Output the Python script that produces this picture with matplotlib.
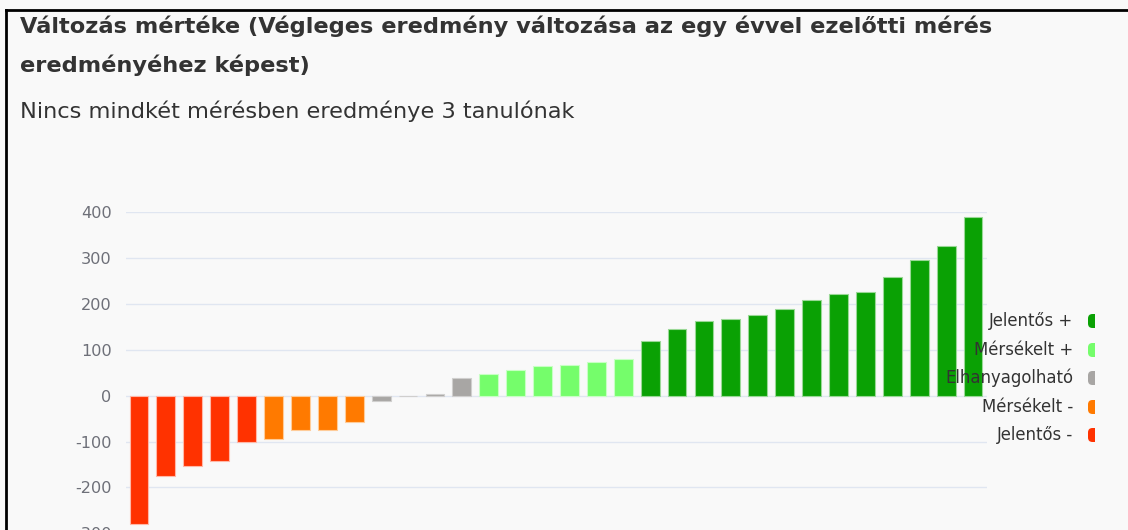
import matplotlib
matplotlib.use("Agg")
import matplotlib.pyplot as plt
from matplotlib.patches import FancyBboxPatch, Rectangle
from matplotlib.lines import Line2D

W, H = 1128, 530

# adatok
values = [-280, -175, -153, -142, -101,
          -94, -74, -74, -58,
          -11, -1, 4, 39,
          47, 55, 64, 68, 73, 81,
          119, 145, 162, 167, 177, 190, 209, 222, 227, 259, 296, 326, 390]
category_names = ["Jelentős -", "Mérsékelt -", "Elhanyagolható", "Mérsékelt +", "Jelentős +"]
category_counts = [5, 4, 4, 6, 13]
category_colors = ["#ff3200", "#ff7a00", "#a8a6a4", "#75fd6b", "#0aa104"]
category_edges = ["#ffb8a8", "#ffcc99", "#d0cfce", "#c8ffc4", "#9ad896"]
yticks = [-300, -200, -100, 0, 100, 200, 300, 400]

title_lines = ["Változás mértéke (Végleges eredmény változása az egy évvel ezelőtti mérés",
               "eredményéhez képest)"]
subtitle = "Nincs mindkét mérésben eredménye 3 tanulónak"

bar_colors = []
bar_edges = []
for c, n in enumerate(category_counts):
    bar_colors += [category_colors[c]] * n
    bar_edges += [category_edges[c]] * n

fig = plt.figure(figsize=(W / 100, H / 100), dpi=100)
fig.patch.set_facecolor("#f9f9f9")

# tengely pixelben: x 125.5..986.5, y 400 -> 212.3, 0 -> 395.7
px100 = (395.7 - 212.3) / 4
ymin = -320
bottom_px = 395.7 - ymin / 100 * px100
ax = fig.add_axes([125.5 / W, 1 - bottom_px / H, 861 / W, (bottom_px - 212.3) / H])
ax.set_facecolor("#f9f9f9")

x = list(range(len(values)))
ax.bar(x, values, width=0.7, color=bar_colors, edgecolor=bar_edges, linewidth=0.8, zorder=3)
ax.set_xlim(-0.5, len(values) - 0.5)
ax.set_ylim(ymin, 400)
ax.set_yticks(yticks)
ax.set_yticklabels([str(v) for v in yticks], fontsize=11.6, color="#6e7079", family="DejaVu Sans")
ax.tick_params(axis="y", length=0, pad=10)
ax.set_xticks([])
for s in ax.spines.values():
    s.set_visible(False)
for v in yticks:
    ax.axhline(v, color="#e0e6f1", lw=1, zorder=1)

# cím
for i, line in enumerate(title_lines):
    fig.text(20 / W, 1 - (33 + 38.7 * i) / H, line, fontsize=16.2, fontweight="bold",
             family="DejaVu Sans", color="#333333", va="baseline", ha="left")
fig.text(20 / W, 1 - 118 / H, subtitle, fontsize=16.2, family="DejaVu Sans",
         color="#333333", va="baseline", ha="left")

# jelmagyarázat (jobbra, a négyzetek levágva)
legend_y = [321, 350, 378, 407, 435]
clip = Rectangle((0, 0), 1095 / W, 1, transform=fig.transFigure, visible=False)
fig.add_artist(clip)
for i, c in enumerate(reversed(range(len(category_names)))):
    yy = 1 - legend_y[i] / H
    fig.text(1073 / W, yy, category_names[c], fontsize=11.9, family="DejaVu Sans",
             color="#333333", ha="right", va="center")
    p = FancyBboxPatch((1088 / W, yy - 7 / H), 14 / W, 14 / H,
                       boxstyle="round,pad=0,rounding_size=0.004",
                       transform=fig.transFigure, facecolor=category_colors[c],
                       edgecolor="none", mutation_aspect=W / H)
    fig.add_artist(p)
    p.set_clip_path(clip)

# keret
fig.add_artist(Line2D([6 / W, 1], [1 - 10 / H, 1 - 10 / H], color="black", lw=2,
                      transform=fig.transFigure))
fig.add_artist(Line2D([6 / W, 6 / W], [0, 1 - 10 / H], color="black", lw=2,
                      transform=fig.transFigure))

fig.savefig("out.png", dpi=100, facecolor=fig.get_facecolor())
